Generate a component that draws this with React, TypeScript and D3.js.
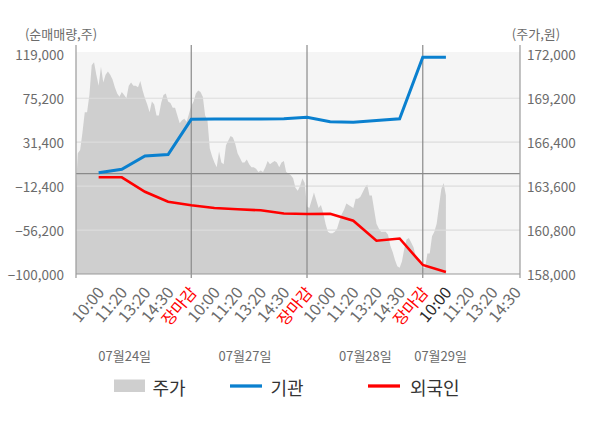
import React from 'react';
import * as d3 from 'd3';

const W = 600;
const H = 428;
const PLOT = { left: 76, right: 520, top: 54.3, bottom: 274, bgTop: 52, lineTop: 45 };
const FONT = "'Noto Sans CJK KR', 'Noto Sans', sans-serif";

// Left axis (순매매량) and right axis (주가) ticks
const leftTicks = [-100000, -56200, -12400, 31400, 75200, 119000];
const rightTicks = [158000, 160800, 163600, 166400, 169200, 172000];

// X axis categories
const sessionLabels = ['10:00', '11:20', '13:20', '14:30', '장마감'];
const daySessionCounts = [5, 5, 5, 4];
const dayNames = ['07월24일', '07월27일', '07월28일', '07월29일'];
const dayNameSlots = [2.125, 7.32, 12.52, 15.77];
const currentSlot = 16;

// 주가 (price) samples, 0.1 slot apart
const priceDay1 = [
  163500, 165700, 165900, 167000, 168300, 168300, 169400, 171300, 171500, 170700,
  170000, 171200, 170200, 170700, 170900, 170700, 170400, 169900, 169500, 169300,
  169600, 169400, 169200, 170000, 170200, 170000, 170000, 169900, 170300, 169700,
  169200, 168800, 168300, 169000, 168800, 168100, 168100, 168900, 169400, 169500,
  169000, 168900, 168600, 168600, 168100, 167600, 167800, 167900, 167700, 168200,
  168700,
];
const priceDay2 = [
  169000, 169500, 169700, 169600, 169300, 168100, 167800, 166000, 165500, 165100,
  164800, 165800, 165100, 165000, 166200, 166500, 166800, 166700, 166300, 165700,
  165400, 165100, 165100, 165300, 165000, 164800, 164800, 164700, 164500, 164600,
  164500, 164800, 165200, 165000, 165100, 165200, 165100, 164800, 165100, 165200,
  164500, 164400, 164300, 164100, 163500, 163300, 163600, 164100, 163800, 162300,
];
const priceDay3 = [
  162200, 162700, 163200, 162700, 162200, 162400, 161900, 161200, 160700, 160600,
  160600, 160700, 160900, 161400, 161800, 162100, 162500, 162400, 162300, 162200,
  162800, 162800, 162900, 163200, 163500, 163700, 163000, 163000, 162100, 161200,
  160900, 160700, 160700, 160700, 160500, 159800, 159400, 158900, 158500, 158400,
  158800, 159600, 160200, 160300, 160000, 159700, 159100, 158800, 158600, 158400,
];
const priceDay4 = [158400, 159300, 159300, 160400, 160700, 161200, 162300, 163400, 163800, 163000];
const priceStep = 0.1;

// 기관 / 외국인 net buying, one value per session slot starting at slot 1
const institution = [1000, 4400, 17600, 19100, 54200, 54500, 54500, 54500, 54700, 56200, 51800, 51200, 53000, 54800, 116000, 116000];
const foreign = [-3600, -3600, -18000, -27900, -31500, -34200, -35500, -36500, -39700, -40200, -40000, -46900, -66800, -64600, -91000, -98000];
const lineStartSlot = 1;

const COLORS = {
  area: '#cfcfcf',
  bg: '#f5f5f5',
  grid: '#dcdcdc',
  axis: '#9a9a9a',
  zero: '#8a8a8a',
  blue: '#0a80cf',
  red: '#ff0000',
  text: '#6b6b6b',
  legendText: '#333333',
};

export default function App() {
  const x = d3.scaleLinear().domain([0, 19.2]).range([75.5, PLOT.right]);
  const yL = d3.scaleLinear().domain([-100000, 119000]).range([PLOT.bottom, PLOT.top]);
  const yR = d3.scaleLinear().domain([158000, 172000]).range([PLOT.bottom, PLOT.top]);

  const prices = [...priceDay1, ...priceDay2, ...priceDay3, ...priceDay4];
  const priceData = prices.map((p, i) => ({ s: i * priceStep, v: p }));

  const area = d3
    .area<{ s: number; v: number }>()
    .x((d) => Math.max(PLOT.left, x(d.s)))
    .y0(yR(158000))
    .y1((d) => yR(d.v));

  const line = d3
    .line<number>()
    .x((_, i) => x(lineStartSlot + i))
    .y((d) => yL(d));

  const fmt = d3.format(',');

  const xLabels: { slot: number; text: string; day: number }[] = [];
  daySessionCounts.forEach((n, d) => {
    for (let i = 0; i < n; i++) {
      xLabels.push({ slot: d * 5 + i + 1, text: sessionLabels[i], day: d });
    }
  });
  const daySeparators = [5, 10, 15];

  return (
    <svg
      width={W}
      height={H}
      viewBox={`0 0 ${W} ${H}`}
      style={{ position: 'absolute', left: 0, top: 0, background: '#fff' }}
      fontFamily={FONT}
    >
      <rect x={PLOT.left} y={PLOT.bgTop} width={PLOT.right - PLOT.left} height={PLOT.bottom - PLOT.bgTop} fill={COLORS.bg} />
      <path d={area(priceData) || ''} fill={COLORS.area} />

      {leftTicks.slice(1, -1).map((t) => (
        <line key={t} x1={PLOT.left} x2={PLOT.right} y1={yL(t)} y2={yL(t)} stroke={COLORS.grid} strokeWidth={1.2} />
      ))}
      <line x1={PLOT.left} x2={PLOT.right} y1={yL(0)} y2={yL(0)} stroke={COLORS.zero} strokeWidth={1.2} />

      {daySeparators.map((s) => (
        <line key={s} x1={x(s)} x2={x(s)} y1={PLOT.lineTop} y2={PLOT.bottom + 4} stroke={COLORS.zero} strokeWidth={1.2} />
      ))}
      <line x1={PLOT.left} x2={PLOT.left} y1={PLOT.lineTop} y2={PLOT.bottom + 4} stroke={COLORS.axis} strokeWidth={1.2} />
      <line x1={PLOT.right} x2={PLOT.right} y1={PLOT.lineTop} y2={PLOT.bottom + 4} stroke={COLORS.axis} strokeWidth={1.2} />
      <line x1={PLOT.left} x2={PLOT.right} y1={PLOT.bottom} y2={PLOT.bottom} stroke={COLORS.axis} strokeWidth={1.2} />

      <path d={line(institution) || ''} fill="none" stroke={COLORS.blue} strokeWidth={3} />
      <path d={line(foreign) || ''} fill="none" stroke={COLORS.red} strokeWidth={2.6} />

      <text x={61} y={33} textAnchor="middle" dominantBaseline="central" fontSize={13} fill={COLORS.text}>(순매매량,주)</text>
      <text x={536} y={33} textAnchor="middle" dominantBaseline="central" fontSize={13} fill={COLORS.text}>(주가,원)</text>

      {leftTicks.map((t) => (
        <text key={t} x={64} y={yL(t)} textAnchor="end" dominantBaseline="central" fontSize={13.5} fill={COLORS.text}>
          {fmt(t)}
        </text>
      ))}
      {rightTicks.map((t) => (
        <text key={t} x={527} y={yR(t)} textAnchor="start" dominantBaseline="central" fontSize={13.5} fill={COLORS.text}>
          {fmt(t)}
        </text>
      ))}

      {xLabels.map((l, i) => {
        const isClose = l.text === '장마감';
        const isNow = l.slot === currentSlot;
        return (
          <text
            key={i}
            transform={`translate(${x(l.slot) + 6.5},293) rotate(-50)`}
            textAnchor="end"
            fontSize={16}
            fill={isClose ? COLORS.red : isNow ? '#2a2a2a' : COLORS.text}
          >
            {l.text}
          </text>
        );
      })}

      {dayNames.map((n, i) => (
        <text key={n} x={x(dayNameSlots[i])} y={355} textAnchor="middle" dominantBaseline="central" fontSize={13} fill={COLORS.text}>
          {n}
        </text>
      ))}

      <g fontSize={18} fill={COLORS.legendText}>
        <rect x={114} y={379.5} width={31} height={12.5} fill={COLORS.area} />
        <text x={152.5} y={386.5} dominantBaseline="central">주가</text>
        <line x1={230} x2={262} y1={386} y2={386} stroke={COLORS.blue} strokeWidth={3.3} />
        <text x={270.5} y={386.5} dominantBaseline="central">기관</text>
        <line x1={368} x2={400} y1={386} y2={386} stroke={COLORS.red} strokeWidth={3.3} />
        <text x={410} y={386.5} dominantBaseline="central">외국인</text>
      </g>
    </svg>
  );
}
